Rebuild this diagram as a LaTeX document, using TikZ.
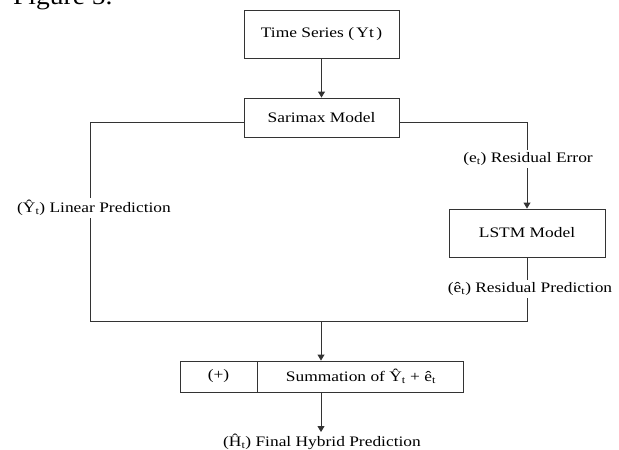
\documentclass[tikz,border=0pt]{standalone}
\usepackage{fontspec}
\setmainfont{Liberation Serif}[FakeStretch=1.2]
\newfontfamily\figfont{Liberation Serif}[FakeStretch=1.1]
\usetikzlibrary{arrows.meta}

\begin{document}
\begin{tikzpicture}[x=1pt,y=-1pt,
  box/.style={draw=black!80, line width=0.9pt, inner sep=0pt, font=\fontsize{14.5}{17}\selectfont},
  lbl/.style={fill=white, inner sep=2.5pt, font=\fontsize{14.5}{17}\selectfont},
  link/.style={draw=black!80, line width=0.9pt},
  arr/.style={link, -{Triangle[width=7pt,length=6pt]}}]
  \useasboundingbox (0,0) rectangle (619,450);
  \node[anchor=base west, inner sep=0pt, font=\figfont\fontsize{25}{28}\selectfont] (fig) at (13,4) {Figure 5.};
  % blocks
  \node[box, minimum width=155, minimum height=48] (ts) at (321.5,34) {Time Series (\,Yt\,)};
  \node[box, minimum width=155, minimum height=39] (sarimax) at (321.5,117.5) {Sarimax Model};
  \node[box, minimum width=156, minimum height=48] (lstm) at (527,233) {LSTM Model};
  \node[box, minimum width=77, minimum height=31] (plus) at (218.5,376.5) {(+)};
  \node[box, minimum width=206, minimum height=31, anchor=west] (summ) at (plus.east) {Summation of Ŷ\textsubscript{t} + ê\textsubscript{t}};
  \node[inner sep=2pt, font=\fontsize{14.5}{17}\selectfont] (final) at (322,442) {(Ĥ\textsubscript{t}) Final Hybrid Prediction};
  % corners of the two branches
  \coordinate (lt) at (90,122);
  \coordinate (rt) at (527,122);
  \coordinate (lb) at (90,321);
  \coordinate (rb) at (527,321);
  \coordinate (mid) at (321,321);
  \draw[arr] (ts) -- (sarimax);
  \draw[link] (sarimax.west |- lt) -- (lt) -- (lb) -- (rb) -- (lstm.south);
  \draw[arr] (sarimax.east |- rt) -- (rt) -- (lstm.north);
  \draw[arr] (mid) -- (summ.north -| mid);
  \draw[arr] (summ.south -| mid) -- (final.north -| mid);
  % labels on the lines
  \node[lbl] (err) at (528,159) {(e\textsubscript{t}) Residual Error};
  \node[lbl] (linear) at (94,208) {(Ŷ\textsubscript{t}) Linear Prediction};
  \node[lbl] (resid) at (530,289) {(ê\textsubscript{t}) Residual Prediction};
\end{tikzpicture}
\end{document}
